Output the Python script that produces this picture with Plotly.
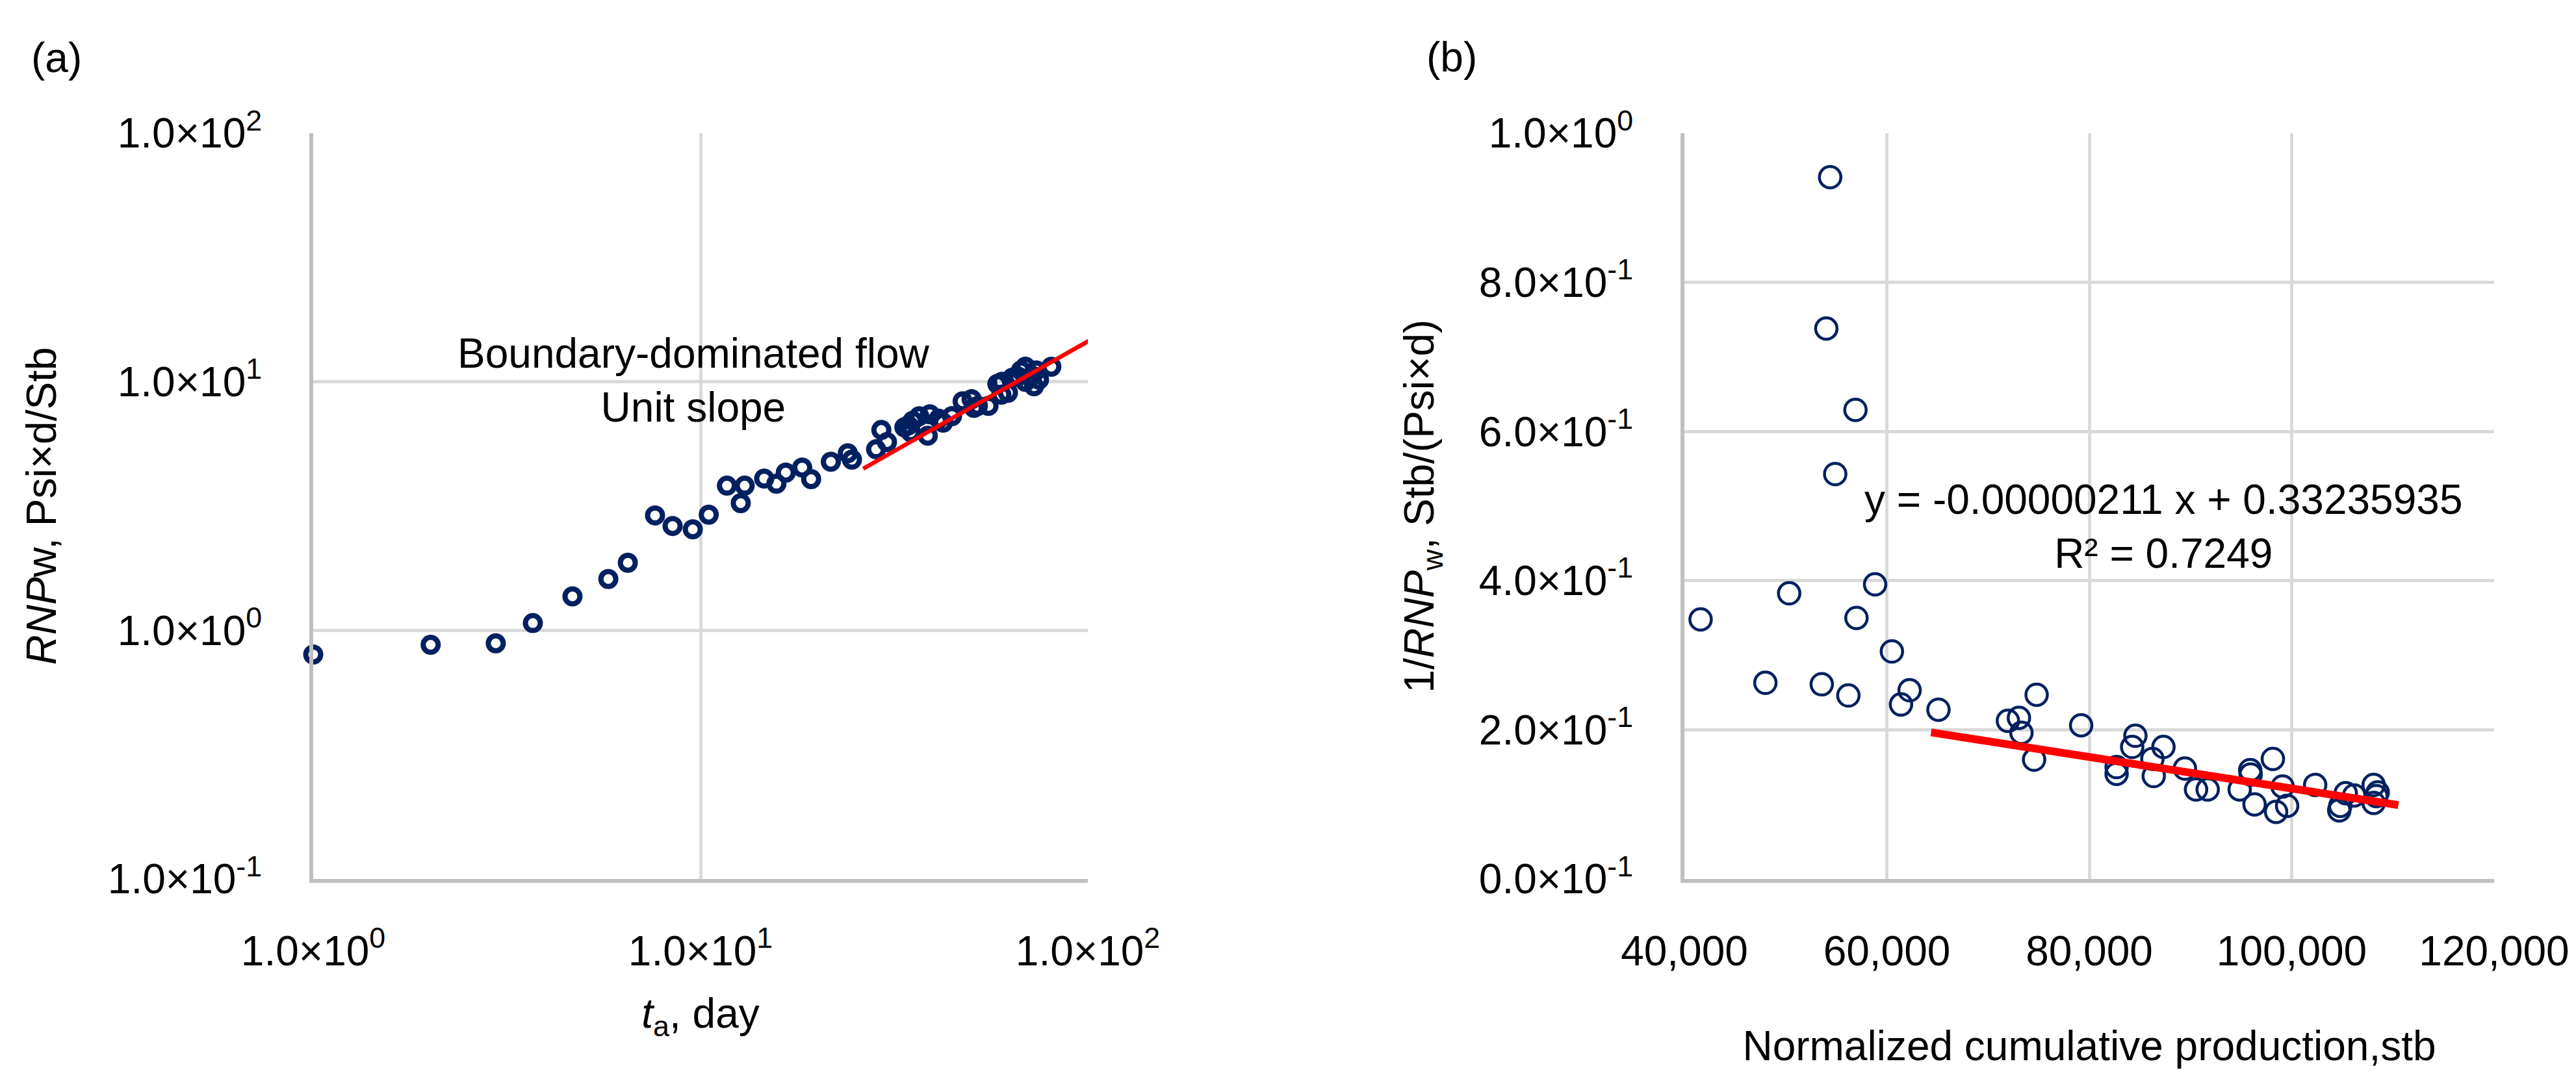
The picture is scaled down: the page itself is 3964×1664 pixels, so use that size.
import plotly.graph_objects as go

# ---------------- Panel (a) data ----------------
ta_days = [1.00, 2.01, 2.96, 3.69, 4.67, 5.78, 6.49, 7.63, 8.47, 9.55,
           10.5, 11.7, 12.7, 13.0, 14.6, 15.7, 16.6, 18.3, 19.3, 21.7,
           24.0, 24.6, 28.4, 29.3, 30.3, 33.6, 34.4, 34.9, 35.3, 36.7,
           38.6, 39.1, 41.2, 42.3, 44.6, 47.5, 50.1, 50.8, 52.0, 55.4,
           58.4, 59.8, 60.0, 62.2, 63.9, 66.0, 67.2, 69.0, 69.0, 71.8,
           72.6, 73.6, 74.8, 80.5]
rnpw = [0.80, 0.875, 0.887, 1.07, 1.37, 1.61, 1.87, 2.90, 2.63, 2.55,
        2.92, 3.82, 3.25, 3.82, 4.08, 3.89, 4.31, 4.52, 4.06, 4.77,
        5.16, 4.86, 5.35, 6.40, 5.72, 6.56, 6.68, 6.27, 6.97, 7.27,
        6.07, 7.40, 7.10, 6.85, 7.28, 8.35, 8.51, 7.86, 8.00, 8.00,
        9.80, 8.87, 10.0, 9.03, 10.4, 10.5, 11.1, 10.0, 11.5, 10.6,
        9.60, 11.1, 10.2, 11.5]
unit_slope_t = [26.3, 113.0]
unit_slope_y = [4.47, 16.2]

a_xtick_vals = [1, 10, 100]
a_xtick_text = ["1.0×10<sup>0</sup>", "1.0×10<sup>1</sup>", "1.0×10<sup>2</sup>"]
a_ytick_vals = [0.1, 1, 10, 100]
a_ytick_text = ["1.0×10<sup>-1</sup>", "1.0×10<sup>0</sup>", "1.0×10<sup>1</sup>", "1.0×10<sup>2</sup>"]

# ---------------- Panel (b) data ----------------
norm_cum = [54400, 54020, 56900, 54900, 58840, 57000, 41600, 50350, 60500, 48000,
            53570, 56200, 62250, 61400, 65100, 71960, 73050, 73300, 74800, 74550,
            79200, 84560, 84240, 87330, 82700, 82700, 86240, 86370, 89450, 90550,
            91700, 94860, 95900, 95950, 98140, 96330, 99100, 98460, 99550, 102320,
            104700, 104800, 105340, 106170, 108100, 108360, 108100, 108500]
inv_rnpw = [0.941, 0.738, 0.629, 0.543, 0.395, 0.350, 0.348, 0.383, 0.305, 0.263,
            0.261, 0.246, 0.253, 0.234, 0.227, 0.212, 0.216, 0.196, 0.247, 0.160,
            0.206, 0.192, 0.177, 0.177, 0.150, 0.141, 0.161, 0.138, 0.148, 0.120,
            0.120, 0.120, 0.146, 0.140, 0.161, 0.100, 0.124, 0.090, 0.098, 0.126,
            0.092, 0.098, 0.115, 0.112, 0.126, 0.111, 0.102, 0.116]
fit_slope = -0.00000211
fit_intercept = 0.33235935
fit_x = [64370, 110540]
fit_y = [fit_slope * x + fit_intercept for x in fit_x]

b_xtick_vals = [40000, 60000, 80000, 100000, 120000]
b_xtick_text = ["40,000", "60,000", "80,000", "100,000", "120,000"]
b_ytick_vals = [0.0, 0.2, 0.4, 0.6, 0.8, 1.0]
b_ytick_text = ["0.0×10<sup>-1</sup>", "2.0×10<sup>-1</sup>", "4.0×10<sup>-1</sup>",
                "6.0×10<sup>-1</sup>", "8.0×10<sup>-1</sup>", "1.0×10<sup>0</sup>"]

# ---------------- Styling ----------------
W, H = 3964, 1664
FONT = "Liberation Sans, Arial, sans-serif"
FS = 64
NAVY = "#002060"
GRID = "#D9D9D9"
AXLINE = "#BFBFBF"

fig = go.Figure()

fig.add_trace(go.Scatter(
    x=ta_days, y=rnpw, mode="markers", xaxis="x", yaxis="y",
    marker=dict(symbol="circle-open", size=23, color=NAVY, line=dict(width=8, color=NAVY)),
    cliponaxis=False, showlegend=False))
fig.add_trace(go.Scatter(
    x=unit_slope_t, y=unit_slope_y, mode="lines", xaxis="x", yaxis="y",
    line=dict(color="#FF0000", width=6.5), showlegend=False))

fig.add_trace(go.Scatter(
    x=norm_cum, y=inv_rnpw, mode="markers", xaxis="x2", yaxis="y2",
    marker=dict(symbol="circle-open", size=33, color=NAVY, line=dict(width=4.5, color=NAVY)),
    cliponaxis=False, showlegend=False))
fig.add_trace(go.Scatter(
    x=fit_x, y=fit_y, mode="lines", xaxis="x2", yaxis="y2",
    line=dict(color="#FF0000", width=12), showlegend=False))

common = dict(showgrid=True, gridcolor=GRID, gridwidth=5, showline=True,
              linecolor=AXLINE, linewidth=6, zeroline=False, ticks="",
              tickfont=dict(family=FONT, size=FS, color="black"),
              automargin=False)

ydom = [1 - 1345 / H, 1 - 197 / H]

fig.update_layout(
    width=W, height=H,
    margin=dict(l=0, r=0, t=0, b=0),
    paper_bgcolor="white", plot_bgcolor="white",
    font=dict(family=FONT, size=FS, color="black"),
    xaxis=dict(type="log", domain=[474 / W, 1666 / W], range=[0, 2],
               tickmode="array", tickvals=a_xtick_vals, ticktext=a_xtick_text,
               ticklabelstandoff=50,
               title=dict(text="<i>t</i><sub>a</sub>, day", standoff=40,
                          font=dict(family=FONT, size=FS)),
               anchor="y", **common),
    yaxis=dict(type="log", domain=ydom, range=[-1, 2],
               tickmode="array", tickvals=a_ytick_vals, ticktext=a_ytick_text,
               ticklabelstandoff=60,
               title=dict(text="<i>RNP</i>w, Psi×d/Stb", standoff=60,
                          font=dict(family=FONT, size=FS)),
               anchor="x", **common),
    xaxis2=dict(domain=[2584 / W, 3830 / W], range=[40000, 120000],
                tickmode="array", tickvals=b_xtick_vals, ticktext=b_xtick_text,
                ticklabelstandoff=50,
                title=dict(text="Normalized cumulative production,stb", standoff=90,
                           font=dict(family=FONT, size=FS)),
                anchor="y2", **common),
    yaxis2=dict(domain=ydom, range=[0, 1],
                tickmode="array", tickvals=b_ytick_vals, ticktext=b_ytick_text,
                ticklabelstandoff=60,
                title=dict(text="1/<i>RNP</i><sub>w</sub>, Stb/(Psi×d)", standoff=50,
                           font=dict(family=FONT, size=FS)),
                anchor="x2", **common),
    annotations=[
        dict(text="(a)", xref="paper", yref="paper", x=79 / W, y=1 - 81 / H,
             xanchor="center", yanchor="middle", showarrow=False,
             font=dict(family=FONT, size=FS)),
        dict(text="(b)", xref="paper", yref="paper", x=2226 / W, y=1 - 80 / H,
             xanchor="center", yanchor="middle", showarrow=False,
             font=dict(family=FONT, size=FS)),
        dict(text="Boundary-dominated flow<br>Unit slope", xref="x", yref="y",
             x=0.983, y=1.005, xanchor="center", yanchor="middle", showarrow=False,
             align="center", font=dict(family=FONT, size=FS)),
        dict(text="y = -0.00000211 x + 0.33235935<br>R² = 0.7249", xref="x2", yref="y2",
             x=87330, y=0.4725, xanchor="center", yanchor="middle", showarrow=False,
             align="center", font=dict(family=FONT, size=FS)),
    ],
)

fig.write_html("out.html")
